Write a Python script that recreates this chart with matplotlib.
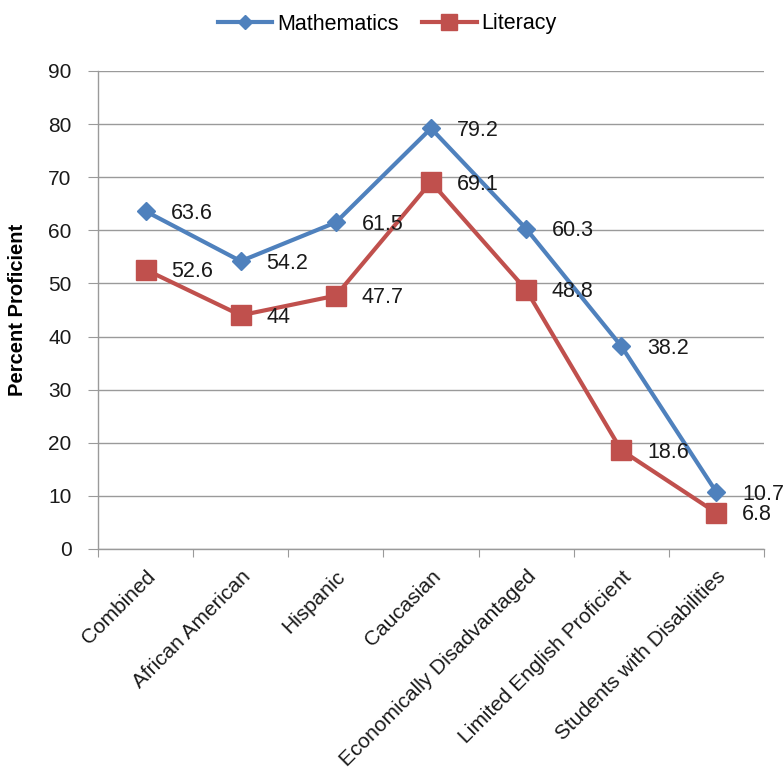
import matplotlib
matplotlib.use("Agg")
import matplotlib.pyplot as plt
import numpy as np

categories = ["Combined", "African American", "Hispanic", "Caucasian",
              "Economically Disadvantaged", "Limited English Proficient",
              "Students with Disabilities"]
math_vals = [63.6, 54.2, 61.5, 79.2, 60.3, 38.2, 10.7]
lit_vals = [52.6, 44, 47.7, 69.1, 48.8, 18.6, 6.8]
math_labels = ["63.6", "54.2", "61.5", "79.2", "60.3", "38.2", "10.7"]
lit_labels = ["52.6", "44", "47.7", "69.1", "48.8", "18.6", "6.8"]
y_ticks = [0, 10, 20, 30, 40, 50, 60, 70, 80, 90]

plt.rcParams['font.family'] = ['Liberation Sans', 'DejaVu Sans']

W, H = 784, 781
fig = plt.figure(figsize=(W/100, H/100), dpi=100)
ax = fig.add_axes([98/W, 1 - 549/H, (764-98)/W, (549-71)/H])

x = np.arange(len(categories))
blue = "#4F81BD"
red = "#C0504D"
grid_c = "#9A9A9A"
txt_c = "#1A1A1A"

ax.plot(x, math_vals, color=blue, lw=3, marker="D", ms=9, label="Mathematics", zorder=3)
ax.plot(x, lit_vals, color=red, lw=3, marker="s", ms=14, label="Literacy", zorder=3)

for xi, v, t in zip(x, math_vals, math_labels):
    ax.annotate(t, (xi, v), xytext=(18.5, -1.5), textcoords="offset points",
                fontsize=15.5, va="center", ha="left", color=txt_c, zorder=4)
for xi, v, t in zip(x, lit_vals, lit_labels):
    ax.annotate(t, (xi, v), xytext=(18.5, -1.5), textcoords="offset points",
                fontsize=15.5, va="center", ha="left", color=txt_c, zorder=4)

ax.set_xlim(-0.5, len(categories) - 0.5)
ax.set_ylim(0, 90)
ax.set_yticks(y_ticks)
ax.set_yticklabels([str(t) for t in y_ticks], fontsize=15, color=txt_c)
ax.yaxis.grid(True, color=grid_c, lw=1)
ax.set_axisbelow(True)

ax.set_xticks(np.arange(-0.5, len(categories) + 0.5, 1), minor=False)
ax.set_xticklabels([])
ax.set_xticks(x, minor=True)
ax.set_xticklabels(categories, minor=True, rotation=45, ha="right",
                   rotation_mode="anchor", fontsize=15, color=txt_c)
ax.tick_params(axis="x", which="minor", length=0, pad=13)
ax.tick_params(axis="x", which="major", length=6, color=grid_c, direction="out")
ax.tick_params(axis="y", length=7, color=grid_c, direction="out", pad=12)

for s in ["top", "right"]:
    ax.spines[s].set_visible(False)
for s in ["left", "bottom"]:
    ax.spines[s].set_color(grid_c)
    ax.spines[s].set_linewidth(1)

ax.set_ylabel("Percent Proficient", fontsize=14.5, fontweight="bold", color="black")
ax.yaxis.set_label_coords((27 - 98) / (764 - 98), 0.5)

fig.legend(*ax.get_legend_handles_labels(), loc="center",
           bbox_to_anchor=(387/W, 1 - 24/H), ncol=2, frameon=False,
           fontsize=15.5, handlelength=2.55, columnspacing=1.1,
           handletextpad=0.2, borderpad=0, markerscale=0.8)

fig.savefig("out.png", dpi=100)
